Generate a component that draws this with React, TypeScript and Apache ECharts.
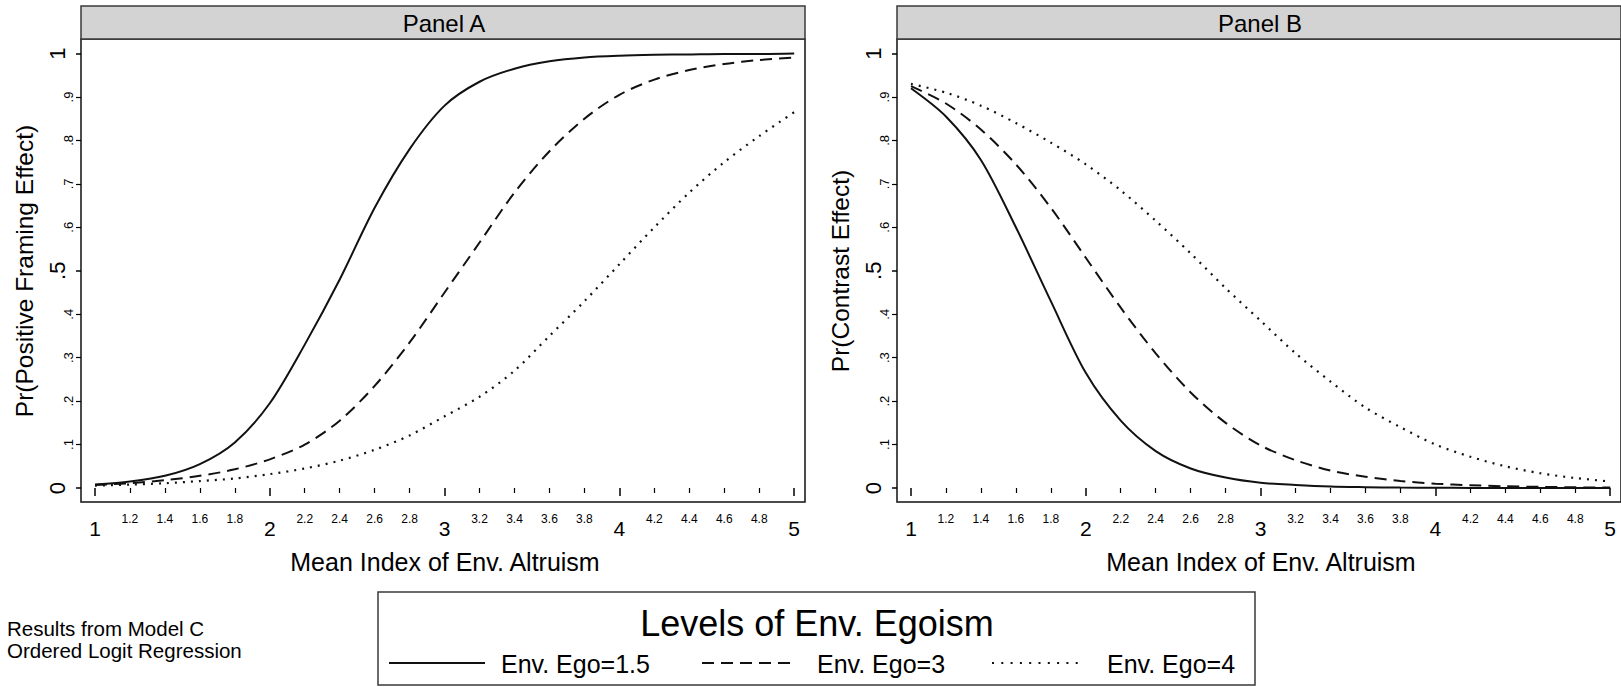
import React, { useEffect, useRef } from "react";
import * as echarts from "echarts";

// ---- data ----
const altruism = [1, 1.2, 1.4, 1.6, 1.8, 2, 2.2, 2.4, 2.6, 2.8, 3, 3.2, 3.4, 3.6, 3.8, 4, 4.2, 4.4, 4.6, 4.8, 5];

// Panel A: Pr(Positive Framing Effect)
const framingEgo15 = [0.008, 0.015, 0.028, 0.055, 0.105, 0.195, 0.33, 0.48, 0.645, 0.78, 0.88, 0.935, 0.965, 0.982, 0.991, 0.995, 0.997, 0.998, 0.999, 0.999, 1.0];
const framingEgo3 = [0.007, 0.011, 0.018, 0.028, 0.043, 0.066, 0.1, 0.155, 0.235, 0.335, 0.45, 0.565, 0.68, 0.775, 0.85, 0.905, 0.94, 0.962, 0.976, 0.985, 0.991];
const framingEgo4 = [0.0055, 0.008, 0.011, 0.016, 0.022, 0.032, 0.045, 0.063, 0.088, 0.121, 0.165, 0.21, 0.27, 0.35, 0.43, 0.515, 0.6, 0.68, 0.75, 0.81, 0.865];

// Panel B: Pr(Contrast Effect)
const contrastEgo15 = [0.92, 0.855, 0.755, 0.6, 0.43, 0.265, 0.155, 0.085, 0.045, 0.024, 0.012, 0.007, 0.0035, 0.002, 0.001, 0.0005, 0.0003, 0.0002, 0.0001, 0.0001, 0.0];
const contrastEgo3 = [0.925, 0.885, 0.825, 0.745, 0.645, 0.53, 0.415, 0.31, 0.22, 0.15, 0.098, 0.064, 0.04, 0.026, 0.016, 0.01, 0.0065, 0.004, 0.0026, 0.0016, 0.001];
const contrastEgo4 = [0.93, 0.91, 0.88, 0.84, 0.795, 0.745, 0.685, 0.615, 0.54, 0.46, 0.385, 0.31, 0.245, 0.185, 0.14, 0.1, 0.072, 0.05, 0.034, 0.023, 0.015];

const majorXTicks = [1, 2, 3, 4, 5];
const minorXTicks = [1.2, 1.4, 1.6, 1.8, 2.2, 2.4, 2.6, 2.8, 3.2, 3.4, 3.6, 3.8, 4.2, 4.4, 4.6, 4.8];
const majorYTicks = [0, 0.5, 1];
const minorYTicks = [0.1, 0.2, 0.3, 0.4, 0.6, 0.7, 0.8, 0.9];

const panelTitles = ["Panel A", "Panel B"];
const yTitles = ["Pr(Positive Framing Effect)", "Pr(Contrast Effect)"];
const xTitle = "Mean Index of Env. Altruism";
const legendTitle = "Levels of Env. Egoism";
const legendLabels = ["Env. Ego=1.5", "Env. Ego=3", "Env. Ego=4"];
const noteLines = ["Results from Model C", "Ordered Logit Regression"];

const FONT = "'Liberation Sans', Arial, Helvetica, sans-serif";
const INK = "#000";

const fmtY = (v: number) => {
  if (v === 0) return "0";
  if (v === 1) return "1";
  return String(Math.round(v * 10) / 10).replace(/^0/, "");
};

export default function App() {
  const ref = useRef<HTMLDivElement>(null);

  useEffect(() => {
    if (!ref.current) return;
    const chart = echarts.init(ref.current, undefined, { renderer: "svg" });

    const gridLefts = [81, 897];
    const gridTop = 39;
    const gridW = 724;
    const gridH = 463;
    const xMin = 0.92;
    const xMax = 0.92 + 724 / 174.8;
    const yMin = -0.0322;
    const yMax = 1.0334;

    const grids = gridLefts.map((left) => ({
      left,
      top: gridTop,
      width: gridW,
      height: gridH,
      show: true,
      borderColor: "#111",
      borderWidth: 1.5,
      backgroundColor: "#fff",
      outerBoundsMode: "none",
      containLabel: false,
    }));

    const xAxes: any[] = [];
    const yAxes: any[] = [];
    [0, 1].forEach((g) => {
      xAxes.push({
        gridIndex: g,
        type: "value",
        position: "bottom",
        min: xMin,
        max: xMax,
        axisLine: { show: false },
        splitLine: { show: false },
        axisTick: { show: true, customValues: majorXTicks, length: 8, lineStyle: { color: INK, width: 1.5 } },
        axisLabel: { customValues: majorXTicks, fontSize: 21, fontFamily: FONT, color: INK, margin: 16 },
      });
      xAxes.push({
        gridIndex: g,
        type: "value",
        position: "bottom",
        min: xMin,
        max: xMax,
        axisLine: { show: false },
        splitLine: { show: false },
        axisTick: { show: true, customValues: minorXTicks, length: 5, lineStyle: { color: INK, width: 1.2 } },
        axisLabel: { customValues: minorXTicks, fontSize: 12, fontFamily: FONT, color: INK, margin: 11 },
      });
      yAxes.push({
        gridIndex: g,
        type: "value",
        position: "left",
        min: yMin,
        max: yMax,
        axisLine: { show: false },
        splitLine: { show: false },
        axisTick: { show: true, customValues: majorYTicks, length: 5, lineStyle: { color: INK, width: 1.5 } },
        axisLabel: { customValues: majorYTicks, rotate: 90, fontSize: 22, fontFamily: FONT, color: INK, margin: 13, formatter: fmtY },
      });
      yAxes.push({
        gridIndex: g,
        type: "value",
        position: "left",
        min: yMin,
        max: yMax,
        axisLine: { show: false },
        splitLine: { show: false },
        axisTick: { show: true, customValues: minorYTicks, length: 5, lineStyle: { color: INK, width: 1.2 } },
        axisLabel: { customValues: minorYTicks, rotate: 90, fontSize: 13, fontFamily: FONT, color: INK, margin: 6, formatter: fmtY },
      });
    });

    const styles = [
      { type: "solid" as any, width: 2 },
      { type: [12, 7] as any, width: 2 },
      { type: [2, 6] as any, width: 2.2 },
    ];
    const mk = (vals: number[], panel: number, s: number) => ({
      type: "line",
      xAxisIndex: panel * 2,
      yAxisIndex: panel * 2,
      data: altruism.map((x, i) => [x, vals[i]]),
      showSymbol: false,
      smooth: 0.3,
      lineStyle: { color: "#111", width: styles[s].width, type: styles[s].type },
      silent: true,
      z: 3,
    });
    const series = [
      mk(framingEgo15, 0, 0),
      mk(framingEgo3, 0, 1),
      mk(framingEgo4, 0, 2),
      mk(contrastEgo15, 1, 0),
      mk(contrastEgo3, 1, 1),
      mk(contrastEgo4, 1, 2),
    ];

    const txt = (text: string, x: number, y: number, size: number, align = "center", rotation = 0) => ({
      type: "text",
      x,
      y,
      rotation,
      z: 20,
      style: {
        text,
        fill: INK,
        fontSize: size,
        fontFamily: FONT,
        align,
        verticalAlign: "middle",
        textAlign: align,
        textVerticalAlign: "middle",
      },
    });

    const graphic: any[] = [];
    gridLefts.forEach((left, i) => {
      graphic.push({
        type: "rect",
        z: 15,
        shape: { x: left, y: 6, width: gridW, height: 33 },
        style: { fill: "#d3d3d3", stroke: "#3a3a3a", lineWidth: 1.5 },
      });
      graphic.push(txt(panelTitles[i], left + gridW / 2 + 1, 23, 24));
      graphic.push(txt(yTitles[i], left - 57, 271, 24.5, "center", Math.PI / 2));
      graphic.push(txt(xTitle, left + 364, 562, 25));
    });

    // legend box
    graphic.push({
      type: "rect",
      z: 15,
      shape: { x: 378, y: 592, width: 877, height: 93 },
      style: { fill: "#fff", stroke: "#3a3a3a", lineWidth: 1.5 },
    });
    graphic.push(txt(legendTitle, 817, 623, 36));
    const legendY = 663;
    const items = [
      { x1: 389, x2: 485, tx: 501, dash: null as any, w: 2 },
      { x1: 702, x2: 795, tx: 817, dash: [12, 7], w: 2 },
      { x1: 992, x2: 1085, tx: 1107, dash: [2, 7.3], w: 2 },
    ];
    items.forEach((it, i) => {
      graphic.push({
        type: "line",
        z: 20,
        shape: { x1: it.x1, y1: legendY, x2: it.x2, y2: legendY },
        style: { stroke: "#111", lineWidth: it.w, lineDash: it.dash || undefined },
      });
      graphic.push(txt(legendLabels[i], it.tx, legendY + 1, 25, "left"));
    });

    // notes
    graphic.push(txt(noteLines[0], 7, 628, 20.5, "left"));
    graphic.push(txt(noteLines[1], 7, 650, 20.5, "left"));

    chart.setOption({
      animation: false,
      backgroundColor: "#fff",
      grid: grids,
      xAxis: xAxes,
      yAxis: yAxes,
      series,
      graphic,
    });

    return () => chart.dispose();
  }, []);

  return (
    <div
      ref={ref}
      style={{ position: "fixed", left: 0, top: 0, width: 1621, height: 687, background: "#fff" }}
    />
  );
}
